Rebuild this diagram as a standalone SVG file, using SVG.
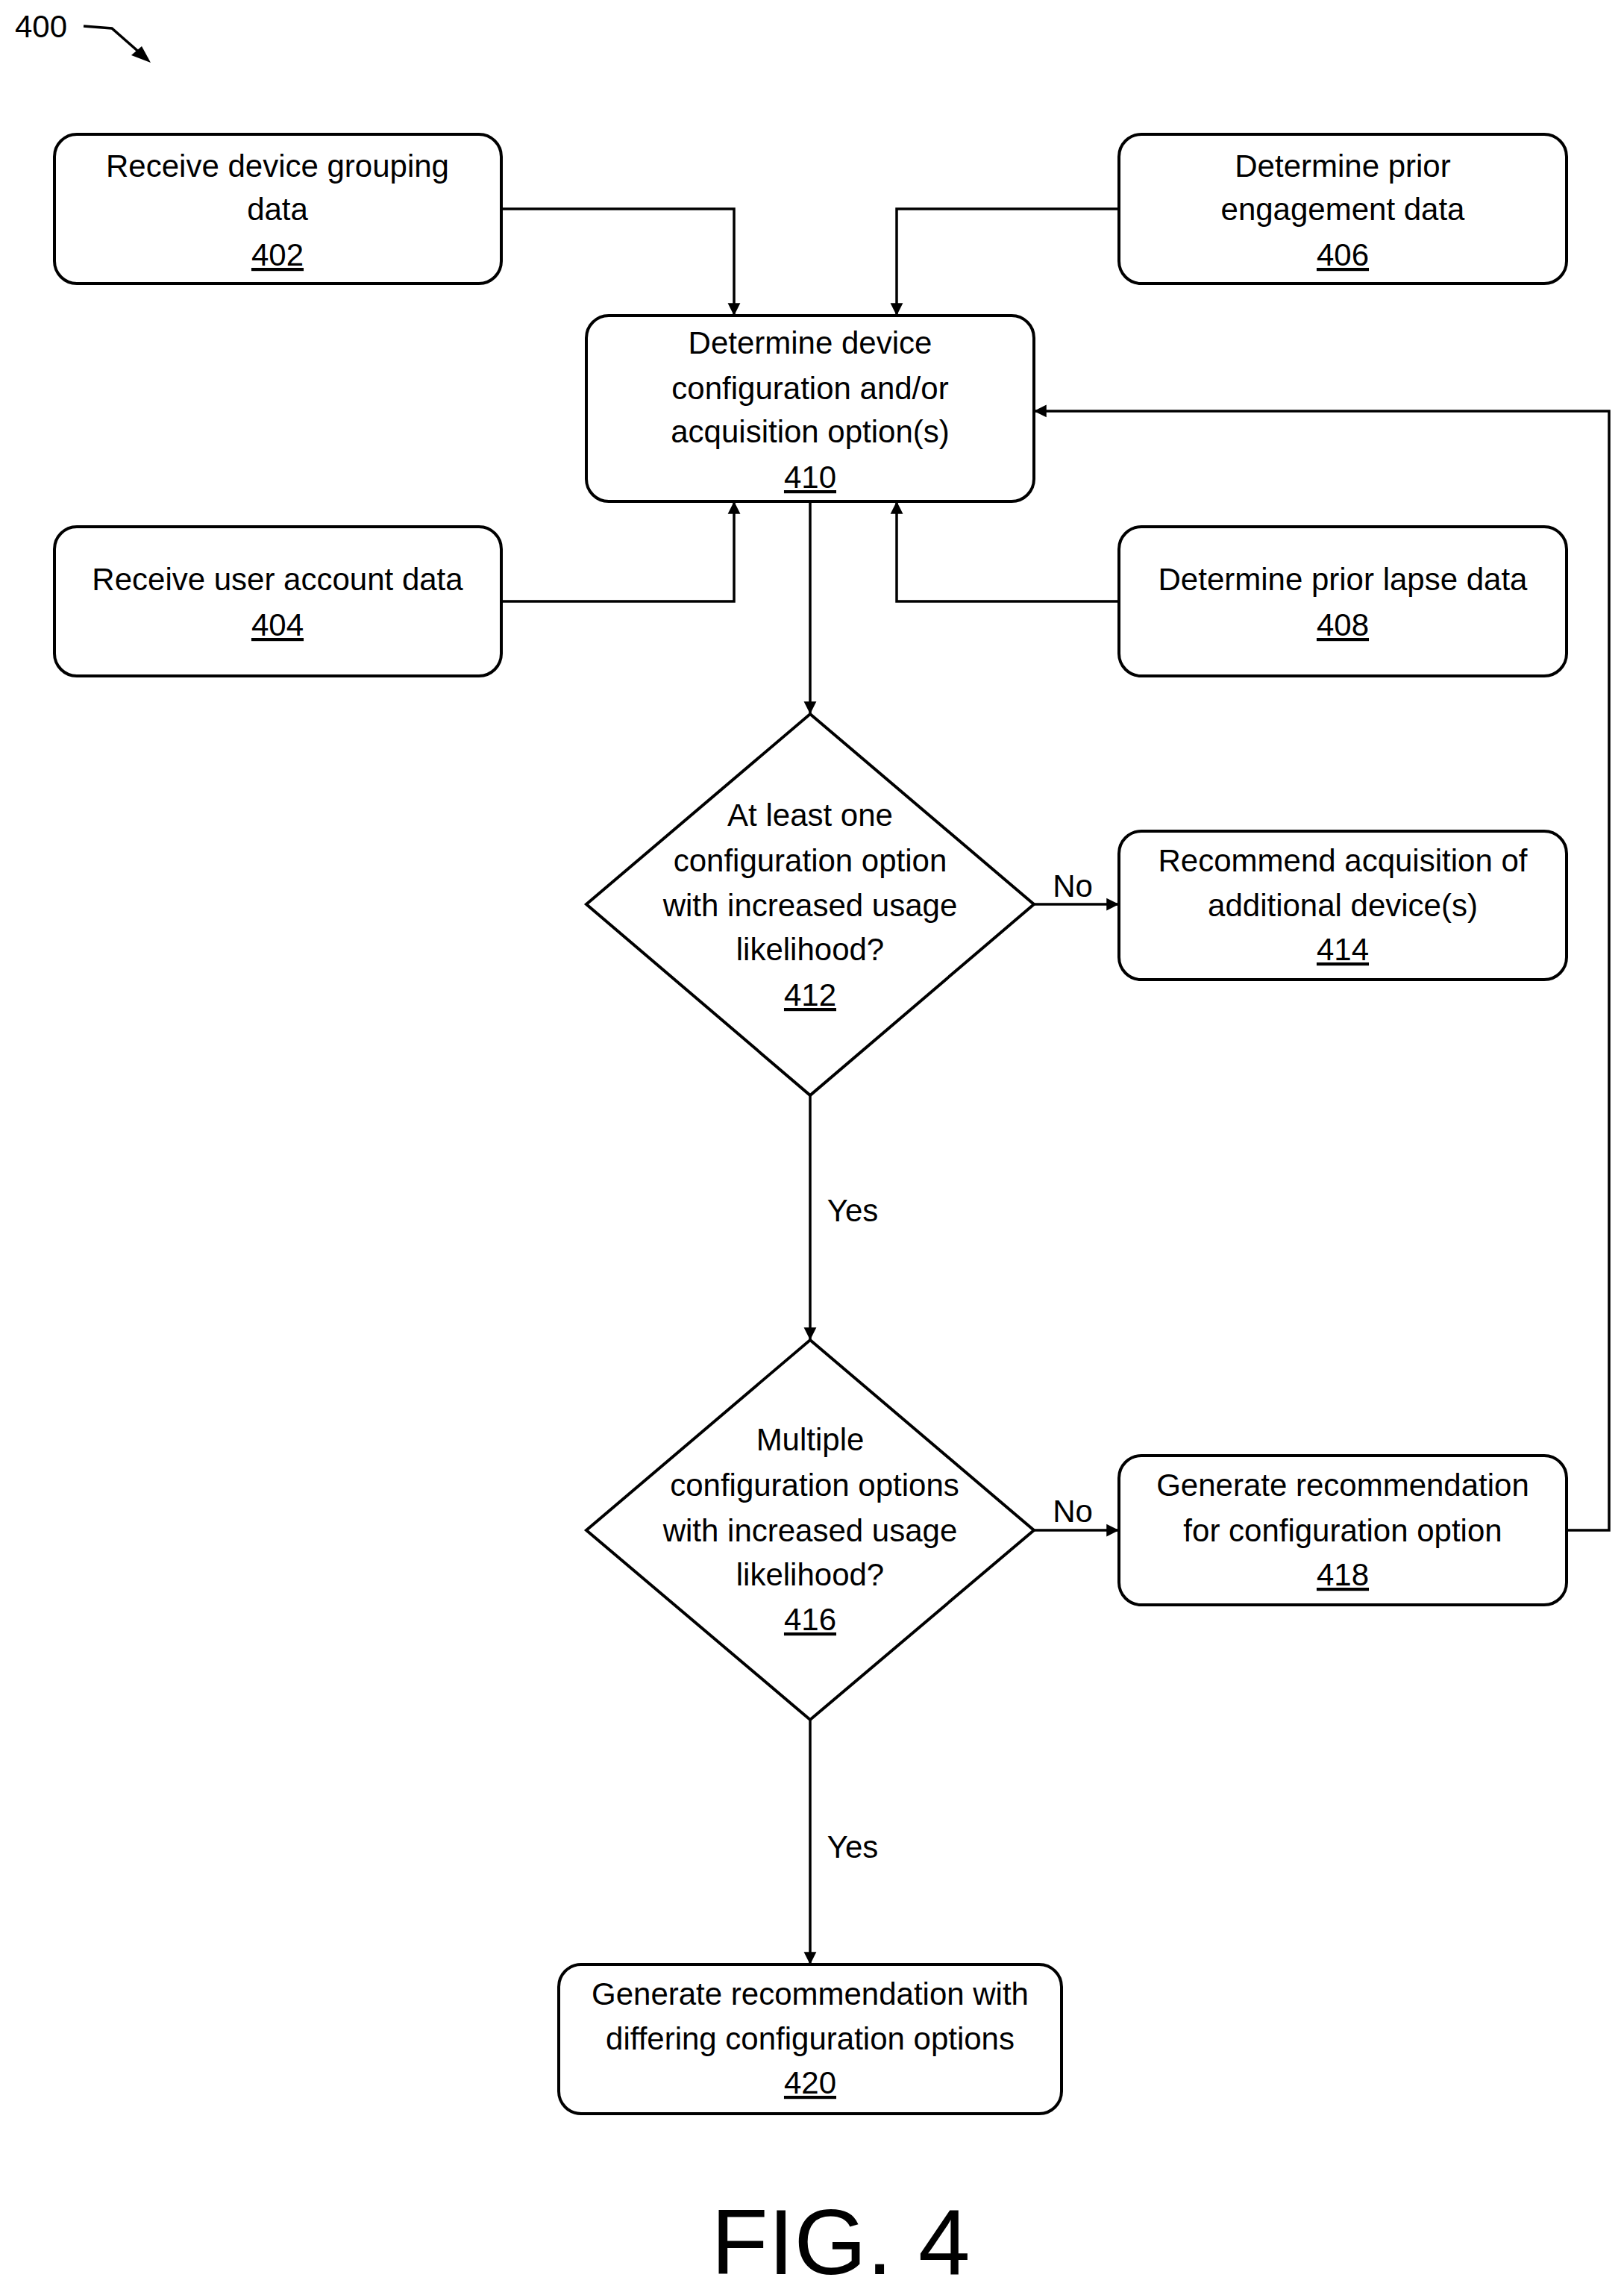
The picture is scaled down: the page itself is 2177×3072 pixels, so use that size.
<svg xmlns="http://www.w3.org/2000/svg" width="2177" height="3072" viewBox="0 0 2177 3072">
<style>
.n{fill:#fff;stroke:#000;stroke-width:4}
.t{font-family:"Liberation Sans",Arial,sans-serif;font-size:42px;text-anchor:middle;fill:#000}
.u{text-decoration:underline}
.c{fill:none;stroke:#000;stroke-width:3.5}
</style>
<defs><marker id="a" viewBox="0 0 10 10" refX="10" refY="5" markerWidth="7" markerHeight="7" orient="auto" markerUnits="userSpaceOnUse" style="overflow:visible"><path d="M0,0L10,5L0,10z" transform="scale(2.4) translate(-5.8,-2.9)"/></marker></defs>
<rect width="2177" height="3072" fill="#fff"/>
<text x="20" y="50" class="t" style="text-anchor:start">400</text>
<g id="connectors">
<path class="c" d="M112,35 L150,38 L198,80"/>
<path d="M202,84 L176,74 L190,62z"/>
<path class="c" marker-end="url(#a)" d="M672,280H984V423"/>
<path class="c" marker-end="url(#a)" d="M1500,280H1202V423"/>
<path class="c" marker-end="url(#a)" d="M672,806H984V672"/>
<path class="c" marker-end="url(#a)" d="M1500,806H1202V672"/>
<path class="c" marker-end="url(#a)" d="M1086,672V957"/>
<path class="c" marker-end="url(#a)" d="M1386,1212H1500"/>
<path class="c" marker-end="url(#a)" d="M1086,1468V1796"/>
<path class="c" marker-end="url(#a)" d="M1386,2051H1500"/>
<path class="c" marker-end="url(#a)" d="M2100,2051H2157V551H1386"/>
<path class="c" marker-end="url(#a)" d="M1086,2305V2633"/>
<text x="1438" y="1202" class="t">No</text>
<text x="1143" y="1637" class="t">Yes</text>
<text x="1438" y="2040" class="t">No</text>
<text x="1143" y="2490" class="t">Yes</text>
</g>
<g id="n402"><rect class="n" x="73" y="180" width="599" height="200" rx="30"/><text class="t" x="372" y="237">Receive device grouping</text><text class="t" x="372" y="295">data</text><text class="t u" x="372" y="356">402</text></g>
<g id="n406"><rect class="n" x="1500" y="180" width="600" height="200" rx="30"/><text class="t" x="1800" y="237">Determine prior</text><text class="t" x="1800" y="295">engagement data</text><text class="t u" x="1800" y="356">406</text></g>
<g id="n410"><rect class="n" x="786" y="423" width="600" height="249" rx="30"/><text class="t" x="1086" y="474">Determine device</text><text class="t" x="1086" y="535">configuration and/or</text><text class="t" x="1086" y="593">acquisition option(s)</text><text class="t u" x="1086" y="654">410</text></g>
<g id="n404"><rect class="n" x="73" y="706" width="599" height="200" rx="30"/><text class="t" x="372" y="791">Receive user account data</text><text class="t u" x="372" y="852">404</text></g>
<g id="n408"><rect class="n" x="1500" y="706" width="600" height="200" rx="30"/><text class="t" x="1800" y="791">Determine prior lapse data</text><text class="t u" x="1800" y="852">408</text></g>
<g id="n412"><path class="n" d="M1086,957L1386,1212L1086,1468L786,1212z"/><text class="t" x="1086" y="1107">At least one</text><text class="t" x="1086" y="1168">configuration option</text><text class="t" x="1086" y="1228">with increased usage</text><text class="t" x="1086" y="1287">likelihood?</text><text class="t u" x="1086" y="1348">412</text></g>
<g id="n414"><rect class="n" x="1500" y="1114" width="600" height="199" rx="30"/><text class="t" x="1800" y="1168">Recommend acquisition of</text><text class="t" x="1800" y="1228">additional device(s)</text><text class="t u" x="1800" y="1287">414</text></g>
<g id="n416"><path class="n" d="M1086,1796L1386,2051L1086,2305L786,2051z"/><text class="t" x="1086" y="1944">Multiple</text><text class="t" x="1092" y="2005">configuration options</text><text class="t" x="1086" y="2066">with increased usage</text><text class="t" x="1086" y="2125">likelihood?</text><text class="t u" x="1086" y="2185">416</text></g>
<g id="n418"><rect class="n" x="1500" y="1951" width="600" height="200" rx="30"/><text class="t" x="1800" y="2005">Generate recommendation</text><text class="t" x="1800" y="2066">for configuration option</text><text class="t u" x="1800" y="2125">418</text></g>
<g id="n420"><rect class="n" x="749" y="2633" width="674" height="200" rx="30"/><text class="t" x="1086" y="2687">Generate recommendation with</text><text class="t" x="1086" y="2747">differing configuration options</text><text class="t u" x="1086" y="2806">420</text></g>
<text x="1127" y="3048" class="t" style="font-size:125px">FIG. 4</text>
</svg>
